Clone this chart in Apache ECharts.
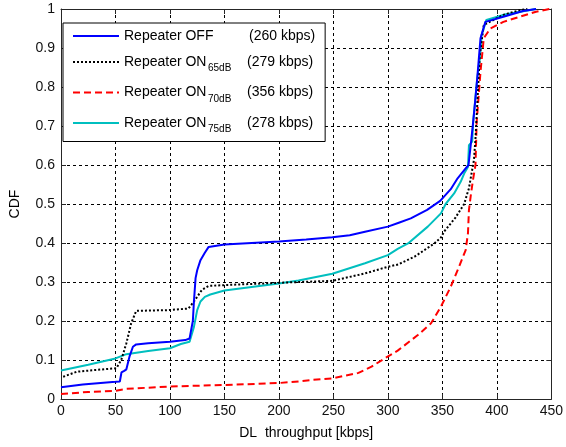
<!DOCTYPE html>
<html>
<head>
<meta charset="utf-8">
<script src="https://cdn.jsdelivr.net/npm/echarts@6/dist/echarts.min.js"></script>
<style>html,body{margin:0;padding:0;background:#fff;}#c{width:566px;height:447px;}</style>
</head>
<body>
<div id="c"></div>
<script>
// ---- data ----
var seriesNames = ['Repeater OFF', 'Repeater ON', 'Repeater ON ', 'Repeater ON  '];
var subscripts = ['', '65dB', '70dB', '75dB'];
var rates = ['(260 kbps)', '(279 kbps)', '(356 kbps)', '(278 kbps)'];
var xTicks = [0, 50, 100, 150, 200, 250, 300, 350, 400, 450];
var yTicks = [0, 0.1, 0.2, 0.3, 0.4, 0.5, 0.6, 0.7, 0.8, 0.9, 1];

var repeaterOff = [[0,0.03],[20,0.037],[50,0.044],[54,0.045],[55.5,0.068],[58,0.072],[60,0.076],[63,0.11],[66,0.134],[69,0.14],[80,0.143],[100,0.147],[114,0.151],[118,0.155],[121,0.2],[122,0.25],[123.5,0.31],[125,0.33],[128,0.356],[132,0.375],[135.5,0.39],[150,0.396],[175,0.4],[200,0.404],[225,0.409],[249,0.415],[265,0.42],[279,0.429],[300,0.442],[310,0.452],[321,0.463],[336,0.485],[348,0.508],[357.7,0.538],[364,0.566],[371,0.59],[374,0.6],[376,0.65],[378.3,0.711],[380,0.76],[382,0.822],[385,0.925],[389.5,0.967],[406,0.98],[424,0.995],[436,1]];
var repeaterOn65 = [[2,0.057],[14.5,0.07],[30,0.074],[50.8,0.079],[55.3,0.1],[60,0.143],[64.4,0.194],[69,0.226],[99,0.228],[117,0.232],[122,0.25],[129.4,0.28],[135.5,0.29],[150,0.292],[200,0.298],[249,0.303],[279,0.322],[300,0.339],[309.4,0.345],[324.5,0.365],[342.7,0.399],[348.7,0.414],[351.8,0.43],[362,0.465],[370,0.5],[372.9,0.527],[374.4,0.54],[376,0.566],[379,0.613],[380.4,0.668],[382,0.754],[384.4,0.882],[388,0.959],[406,0.985],[421,0.997],[428,1]];
var repeaterOn70 = [[0,0.013],[25,0.018],[50,0.021],[60,0.026],[100,0.032],[150,0.036],[200,0.041],[218,0.045],[231,0.049],[249,0.053],[273,0.067],[285,0.083],[297,0.104],[309,0.124],[327.5,0.164],[339.6,0.194],[348.7,0.237],[357.7,0.288],[365.3,0.339],[371.4,0.382],[373.5,0.425],[374.4,0.485],[376,0.52],[378,0.56],[380.4,0.6],[381.5,0.711],[385,0.839],[388,0.925],[394,0.95],[406,0.967],[421,0.98],[436,0.993],[448.5,1]];
var repeaterOn75 = [[0,0.073],[25,0.088],[50,0.104],[60,0.115],[80,0.123],[100,0.13],[110,0.141],[118,0.147],[122,0.185],[125,0.228],[128,0.25],[132,0.262],[137,0.268],[150,0.278],[175,0.287],[200,0.296],[218,0.304],[249,0.321],[279,0.348],[300,0.369],[309,0.385],[318.5,0.399],[336.6,0.442],[348.7,0.476],[353,0.5],[360.8,0.527],[366.8,0.557],[370,0.578],[373.5,0.595],[374.4,0.651],[377.4,0.66],[378.3,0.711],[382,0.822],[384.4,0.873],[386,0.933],[390.4,0.972],[406,0.985],[436,1]];

var seriesData = [repeaterOff, repeaterOn65, repeaterOn70, repeaterOn75];
var colors = ['#0000ff', '#000000', '#ff0000', '#00bfbf'];
var lineTypes = ['solid', 'dotted', [7, 4], 'solid'];

var FONT = '"Liberation Sans", Arial, sans-serif';
var AX = '#262626';

var chart = echarts.init(document.getElementById('c'), null, {renderer: 'canvas'});

var series = seriesData.map(function (d, i) {
  return {
    name: seriesNames[i],
    type: 'line',
    data: d,
    symbol: 'none',
    animation: false,
    z: 10 - i,
    lineStyle: {color: colors[i], width: 2, type: lineTypes[i]},
    itemStyle: {color: colors[i]}
  };
});

var baseX = {
  type: 'value', min: xTicks[0], max: xTicks[xTicks.length - 1], interval: 50
};
var baseY = {
  type: 'value', min: yTicks[0], max: yTicks[yTicks.length - 1], interval: 0.1
};

chart.setOption({
  backgroundColor: '#fff',
  animation: false,
  textStyle: {fontFamily: FONT},
  grid: {left: 59, right: 11, top: 9, bottom: 48, containLabel: false},
  legend: {
    orient: 'vertical',
    left: 63, top: 23,
    padding: [6, 10, 7, 9],
    itemGap: 12,
    itemWidth: 46,
    itemHeight: 14,
    backgroundColor: '#fff',
    borderColor: '#000',
    borderWidth: 1,
    borderRadius: 0,
    itemStyle: {opacity: 0},
    data: seriesNames,
    formatter: function (name) {
      var i = seriesNames.indexOf(name);
      if (!subscripts[i]) {
        return '{n|' + name + '}{k|' + rates[i] + '}';
      }
      return '{m|' + name.trim() + '}{s|' + subscripts[i] + '}{k|' + rates[i] + '}';
    },
    textStyle: {
      fontFamily: FONT, fontSize: 14, color: '#000',
      rich: {
        n: {fontFamily: FONT, fontSize: 14, color: '#000', width: 125},
        m: {fontFamily: FONT, fontSize: 14, color: '#000', width: 84},
        s: {fontFamily: FONT, fontSize: 10, color: '#000', width: 39, padding: [13, 0, 0, 0]},
        k: {fontFamily: FONT, fontSize: 14, color: '#000'}
      }
    }
  },
  xAxis: [
    Object.assign({}, baseX, {
      position: 'bottom',
      name: 'DL  throughput [kbps]',
      nameLocation: 'middle',
      nameGap: 27,
      nameTextStyle: {fontFamily: FONT, fontSize: 14, color: '#000'},
      axisLine: {show: true, onZero: false, lineStyle: {color: AX, width: 1}},
      axisTick: {show: true, inside: true, length: 5, lineStyle: {color: AX}},
      axisLabel: {fontFamily: FONT, fontSize: 14, color: '#111', margin: 5},
      splitLine: {show: true, lineStyle: {color: '#000', type: [3, 3], width: 1}}
    }),
    Object.assign({}, baseX, {
      position: 'top',
      axisLine: {show: true, onZero: false, lineStyle: {color: AX, width: 1}},
      axisTick: {show: true, inside: true, length: 5, lineStyle: {color: AX}},
      axisLabel: {show: false},
      splitLine: {show: false}
    })
  ],
  yAxis: [
    Object.assign({}, baseY, {
      position: 'left',
      name: 'CDF',
      nameLocation: 'middle',
      nameGap: 39,
      nameTextStyle: {fontFamily: FONT, fontSize: 14, color: '#000'},
      axisLine: {show: true, onZero: false, lineStyle: {color: AX, width: 1}},
      axisTick: {show: true, inside: true, length: 5, lineStyle: {color: AX}},
      axisLabel: {fontFamily: FONT, fontSize: 14, color: '#111', margin: 6},
      splitLine: {show: true, lineStyle: {color: '#000', type: [3, 3], width: 1}}
    }),
    Object.assign({}, baseY, {
      position: 'right',
      axisLine: {show: true, onZero: false, lineStyle: {color: AX, width: 1}},
      axisTick: {show: true, inside: true, length: 5, lineStyle: {color: AX}},
      axisLabel: {show: false},
      splitLine: {show: false}
    })
  ],
  series: series
});
</script>
</body>
</html>
